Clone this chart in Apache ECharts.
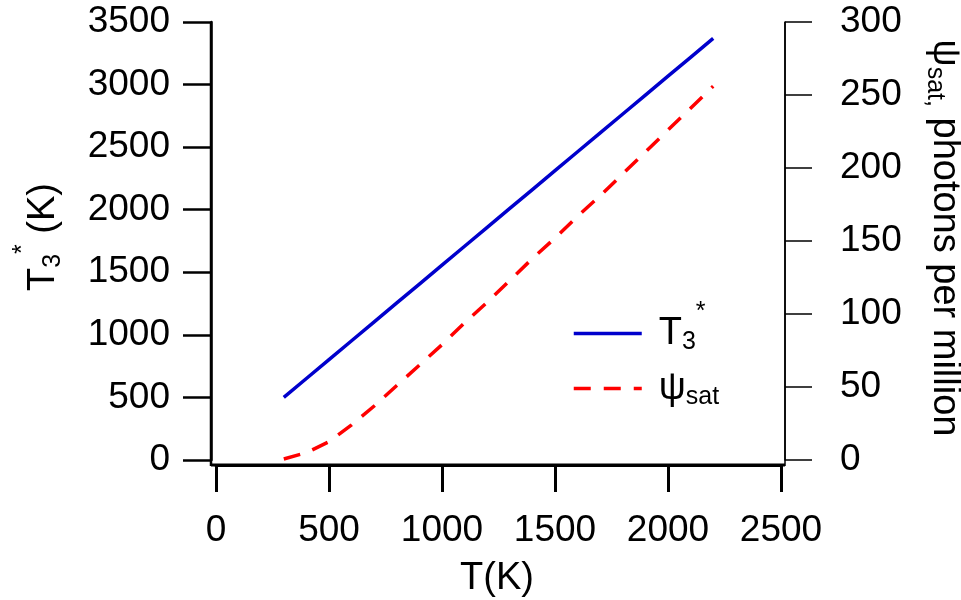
<!DOCTYPE html>
<html>
<head>
<meta charset="utf-8">
<script src="https://cdn.jsdelivr.net/npm/echarts@6/dist/echarts.min.js"></script>
<style>html,body{margin:0;padding:0;background:#fff}#c{width:961px;height:600px}</style>
</head>
<body>
<div id="c"></div>
<script>
// ---- data ----
const temperatures = [300, 400, 500, 600, 700, 800, 900, 1000, 1100, 1200, 1300, 1400, 1500, 1600, 1700, 1800, 1900, 2000, 2100, 2200];
const t3Star = [500, 651, 802, 953, 1104, 1255, 1406, 1557, 1708, 1859, 2010, 2161, 2312, 2463, 2614, 2765, 2916, 3067, 3218, 3369];
const psiSat = [0.7, 5, 12.5, 24, 37, 51, 65, 79, 94, 108, 123, 138, 152, 167, 181, 196, 211, 226, 241, 256];
const seriesNames = ['T3*', 'ψsat'];
const xTitle = 'T(K)';

const FONT = '"Liberation Sans", Arial, sans-serif';
const GL = 216, GT = 22, GR = 180, GB = 140, W = 961, H = 600;

const richStyles = {
  a: {fontSize: 38, lineHeight: 38, fontFamily: FONT, color: '#000'},
  ag: {fontSize: 38, lineHeight: 38, fontFamily: FONT, color: '#000', padding: [0, 0, 0, 12]},
  sub: {fontSize: 25, lineHeight: 25, fontFamily: FONT, color: '#000', padding: [18, 0, 0, 0]},
  sup: {fontSize: 25, lineHeight: 25, fontFamily: FONT, color: '#000', padding: [0, 0, 42, 0]}
};

const chart = echarts.init(document.getElementById('c'), null, {renderer: 'canvas'});
const plain = (v) => String(v);
const axisBase = (w) => ({
  axisLine: {show: true, onZero: false, lineStyle: {color: '#000', width: w}},
  splitLine: {show: false}
});

const option = {
  animation: false,
  backgroundColor: '#fff',
  grid: {left: GL, top: GT, right: GR, bottom: GB, containLabel: false, outerBoundsMode: 'none'},
  xAxis: Object.assign(axisBase(3), {
    type: 'value', min: 0, max: 2500, interval: 500, offset: 5,
    axisTick: {show: true, length: 27, lineStyle: {color: '#000', width: 3}},
    axisLabel: {fontSize: 37, color: '#000', fontFamily: FONT, margin: 47, formatter: plain}
  }),
  yAxis: [
    Object.assign(axisBase(2.5), {
      type: 'value', position: 'left', min: 0, max: 3500, interval: 500, offset: 5,
      axisTick: {show: true, length: 28, lineStyle: {color: '#000', width: 2.5}},
      axisLabel: {fontSize: 37, color: '#000', fontFamily: FONT, margin: 41, formatter: plain}
    }),
    Object.assign(axisBase(1.5), {
      type: 'value', position: 'right', min: 0, max: 300, interval: 50, offset: 4,
      axisTick: {show: true, length: 27, lineStyle: {color: '#000', width: 1.5}},
      axisLabel: {fontSize: 37, color: '#000', fontFamily: FONT, margin: 55, formatter: plain}
    })
  ],
  legend: {
    orient: 'vertical', left: 572, top: 300, padding: 0, itemGap: 0,
    itemWidth: 68, itemHeight: 14,
    data: seriesNames,
    itemStyle: {opacity: 0},
    lineStyle: {width: 3.5},
    formatter: (n) => n === 'T3*' ? '{ag|T}{sub|3}{sup|*}' : '{ag|ψ}{sub|sat}',
    textStyle: {fontSize: 38, fontFamily: FONT, color: '#000', rich: richStyles}
  },
  series: [
    {
      name: seriesNames[0], type: 'line', yAxisIndex: 0, symbol: 'none',
      data: temperatures.map((t, i) => [t, t3Star[i]]),
      lineStyle: {color: '#0000cc', width: 3.5}, itemStyle: {color: '#0000cc'}
    },
    {
      name: seriesNames[1], type: 'line', yAxisIndex: 1, symbol: 'none',
      data: temperatures.map((t, i) => [t, psiSat[i]]),
      lineStyle: {color: '#ff0000', width: 3.5, type: [17, 13]}, itemStyle: {color: '#ff0000'}
    }
  ],
  graphic: [
    // axis line extensions to the corners (axes are offset from the plot area)
    {type: 'line', shape: {x1: GL - 5, y1: H - GB + 5, x2: W - GR + 4, y2: H - GB + 5}, style: {stroke: '#000', lineWidth: 3}, silent: true},
    {type: 'line', shape: {x1: GL - 5, y1: GT, x2: GL - 5, y2: H - GB + 6}, style: {stroke: '#000', lineWidth: 2.5}, silent: true},
    {type: 'line', shape: {x1: W - GR + 4, y1: GT, x2: W - GR + 4, y2: H - GB + 6}, style: {stroke: '#000', lineWidth: 1.5}, silent: true},
    // axis titles
    {type: 'text', x: 497, y: 579, silent: true,
      style: {text: xTitle, font: '38px ' + FONT, fill: '#000', align: 'center', verticalAlign: 'middle'}},
    {type: 'text', x: 44, y: 237, rotation: Math.PI / 2, silent: true,
      style: {text: '{a|T}{sub|3}{sup|*}{a| (K)}', rich: richStyles, fill: '#000', align: 'center', verticalAlign: 'middle'}},
    {type: 'text', x: 944, y: 238, rotation: -Math.PI / 2, silent: true,
      style: {text: '{a|ψ}{sub|sat,}{a| photons per million}', rich: richStyles, fill: '#000', align: 'center', verticalAlign: 'middle'}}
  ]
};
chart.setOption(option);
</script>
</body>
</html>
